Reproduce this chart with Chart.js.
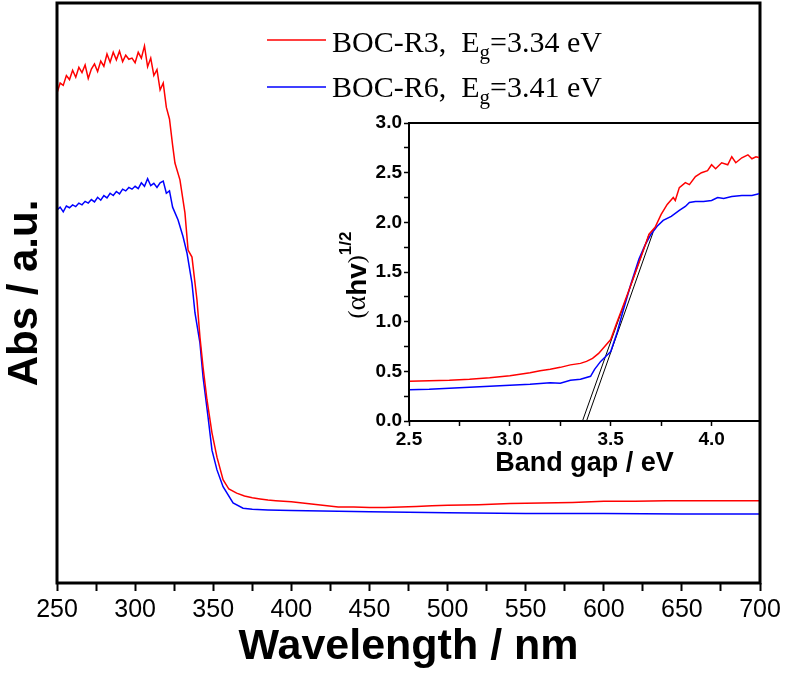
<!DOCTYPE html>
<html>
<head>
<meta charset="utf-8">
<script src="https://cdn.jsdelivr.net/npm/chart.js@4"></script>
<style>
  body { margin: 0; background: #fff; }
  #wrap { position: relative; width: 786px; height: 673px; }
  #main { position: absolute; left: 0; top: 0; }
  #inset { position: absolute; left: 330px; top: 100px; }
</style>
</head>
<body>
<div id="wrap">
  <canvas id="main" width="786" height="673"></canvas>
  <canvas id="inset" width="456" height="380"></canvas>
</div>
<script>
// main UV-vis spectra (absorbance in arbitrary units, 0..1 of the frame)
const redWl = [250,252,254,256,258,260,262,264,266,268,270,272,274,276,278,280,282,284,286,288,290,292,294,296,298,300,302,304,306,308,310,312,314,316,318,320,322,324,325.5,328.7,331.9,333.9,336.4,339.6,341.5,343.5,346,349.2,352.4,356.3,360,365,370,375,380,385,390,400,410,420,430,440,450,460,470,480,490,500,520,540,560,580,600,620,640,660,680,700];
const redAbs = [0.845,0.862,0.858,0.875,0.868,0.884,0.872,0.889,0.880,0.893,0.870,0.886,0.895,0.882,0.900,0.891,0.912,0.898,0.915,0.902,0.917,0.899,0.910,0.903,0.905,0.897,0.915,0.905,0.926,0.890,0.905,0.875,0.885,0.850,0.862,0.820,0.800,0.755,0.724,0.695,0.638,0.574,0.562,0.488,0.424,0.372,0.316,0.259,0.217,0.178,0.162,0.155,0.150,0.147,0.145,0.143,0.142,0.140,0.137,0.134,0.131,0.131,0.130,0.130,0.131,0.132,0.133,0.134,0.135,0.137,0.138,0.139,0.141,0.141,0.142,0.142,0.142,0.142];
const blueWl = [250,252,254,256,258,260,262,264,266,268,270,272,274,276,278,280,282,284,286,288,290,292,294,296,298,300,302,304,306,308,310,312,314,316,318,320,322,324,327.5,330.7,333.2,336.4,338.3,341.5,343.5,346.7,349.2,352.4,356.3,362.7,369.1,375,385,400,450,500,550,600,650,700];
const blueAbs = [0.643,0.648,0.640,0.650,0.647,0.652,0.649,0.655,0.652,0.658,0.655,0.661,0.657,0.665,0.660,0.668,0.664,0.672,0.668,0.675,0.671,0.679,0.676,0.682,0.679,0.684,0.680,0.690,0.684,0.697,0.685,0.689,0.682,0.690,0.693,0.672,0.676,0.648,0.626,0.597,0.569,0.517,0.466,0.414,0.355,0.286,0.229,0.195,0.166,0.138,0.129,0.127,0.126,0.125,0.123,0.121,0.120,0.120,0.119,0.119];
const wlTicks = [250,275,300,325,350,375,400,425,450,475,500,525,550,575,600,625,650,675,700];

// inset: Tauc plot
const insetRedE = [2.5,2.6,2.7,2.8,2.9,3.0,3.05,3.1,3.15,3.2,3.25,3.3,3.35,3.38,3.41,3.44,3.47,3.5,3.53,3.56,3.6,3.65,3.69,3.72,3.75,3.78,3.81,3.82,3.84,3.87,3.89,3.92,3.95,3.98,4.0,4.02,4.05,4.08,4.1,4.12,4.15,4.18,4.2,4.22,4.24];
const insetRedY = [0.40,0.405,0.41,0.42,0.435,0.455,0.47,0.485,0.505,0.52,0.54,0.565,0.58,0.60,0.63,0.68,0.75,0.82,0.99,1.15,1.37,1.65,1.88,1.95,2.08,2.18,2.25,2.22,2.35,2.40,2.38,2.46,2.50,2.52,2.58,2.54,2.60,2.58,2.66,2.60,2.65,2.68,2.64,2.66,2.65];
const insetBlueE = [2.5,2.6,2.7,2.8,2.9,3.0,3.1,3.2,3.25,3.3,3.35,3.4,3.42,3.45,3.48,3.5,3.53,3.56,3.6,3.64,3.67,3.7,3.73,3.76,3.8,3.84,3.87,3.89,3.92,3.96,4.0,4.03,4.06,4.1,4.15,4.2,4.24];
const insetBlueY = [0.315,0.32,0.33,0.34,0.35,0.36,0.37,0.385,0.38,0.41,0.42,0.45,0.52,0.60,0.66,0.70,0.88,1.10,1.38,1.63,1.77,1.88,1.96,2.02,2.06,2.12,2.16,2.20,2.21,2.21,2.22,2.25,2.24,2.26,2.27,2.27,2.29];
const tangent1E = [3.36, 3.69];
const tangent1Y = [0, 1.88];
const tangent2E = [3.38, 3.71];
const tangent2Y = [0, 1.90];
const insetXTicks = [2.5,2.75,3.0,3.25,3.5,3.75,4.0];
const insetYTicks = [0,0.25,0.5,0.75,1.0,1.25,1.5,1.75,2.0,2.25,2.5,2.75,3.0];

const seriesNames = ['BOC-R3,  E', 'BOC-R6,  E'];
const gapLabels = ['=3.34 eV', '=3.41 eV'];
const seriesColors = ['#ff0000', '#0000ff'];

const pts = (xs, ys) => xs.map((x, i) => ({ x: x, y: ys[i] }));

// frame around the plot area
const framePlugin = {
  id: 'frame',
  afterDraw(chart, args, opts) {
    const a = chart.chartArea, ctx = chart.ctx;
    ctx.save();
    ctx.strokeStyle = '#000';
    ctx.lineWidth = opts.width || 2;
    ctx.strokeRect(a.left, a.top, a.right - a.left, a.bottom - a.top);
    ctx.restore();
  }
};

// legend with subscript g
const legendPlugin = {
  id: 'subLegend',
  afterDraw(chart) {
    const ctx = chart.ctx;
    const rows = [{ ly: 40, ty: 52 }, { ly: 87, ty: 97 }];
    ctx.save();
    rows.forEach((r, i) => {
      ctx.strokeStyle = seriesColors[i];
      ctx.lineWidth = 1.5;
      ctx.beginPath();
      ctx.moveTo(267, r.ly);
      ctx.lineTo(326, r.ly);
      ctx.stroke();
      ctx.fillStyle = '#000';
      ctx.textBaseline = 'alphabetic';
      let x = 332;
      ctx.font = '30px "Liberation Serif", "Times New Roman", serif';
      ctx.fillText(seriesNames[i], x, r.ty);
      x += ctx.measureText(seriesNames[i]).width;
      ctx.font = '21px "Liberation Serif", "Times New Roman", serif';
      ctx.fillText('g', x, r.ty + 7);
      x += ctx.measureText('g').width;
      ctx.font = '30px "Liberation Serif", "Times New Roman", serif';
      ctx.fillText(gapLabels[i], x, r.ty);
    });
    ctx.restore();
  }
};

new Chart(document.getElementById('main'), {
  type: 'line',
  data: {
    datasets: [
      { data: pts(redWl, redAbs), borderColor: seriesColors[0], borderWidth: 1.5, pointRadius: 0, tension: 0 },
      { data: pts(blueWl, blueAbs), borderColor: seriesColors[1], borderWidth: 1.5, pointRadius: 0, tension: 0 }
    ]
  },
  options: {
    responsive: false,
    animation: false,
    layout: { padding: { top: 3, right: 26, left: 0, bottom: 0 } },
    plugins: { legend: { display: false }, tooltip: { enabled: false }, frame: { width: 3 } },
    scales: {
      x: {
        type: 'linear', min: 250, max: 700,
        afterBuildTicks: s => { s.ticks = wlTicks.map(v => ({ value: v })); },
        afterFit: s => { s.height = 90; },
        border: { display: false },
        grid: { drawOnChartArea: false, tickLength: 8, tickColor: '#000', tickWidth: 2 },
        ticks: {
          color: '#000', padding: 4, maxRotation: 0, autoSkip: false,
          font: { family: '"Liberation Sans Narrow", "Liberation Sans", Arial', size: 25 },
          callback: v => (v % 50 === 0 ? v : '')
        },
        title: {
          display: true, text: 'Wavelength / nm', color: '#000', padding: { top: 0, bottom: 0 },
          font: { family: '"Liberation Sans", Arial', size: 43, weight: 'bold' }
        }
      },
      y: {
        min: 0, max: 1,
        afterFit: s => { s.width = 57; },
        border: { display: false },
        grid: { display: false },
        ticks: { display: false },
        title: {
          display: true, text: 'Abs / a.u.', color: '#000', padding: { top: 0, bottom: 4 },
          font: { family: '"Liberation Sans", Arial', size: 42, weight: 'bold' }
        }
      }
    }
  },
  plugins: [framePlugin, legendPlugin]
});

// rotated (αhv)^1/2 axis title
const insetTitlePlugin = {
  id: 'insetTitle',
  afterDraw(chart) {
    const ctx = chart.ctx;
    const parts = [
      { t: '(', f: '24px "Liberation Serif", serif', dy: 0 },
      { t: 'α', f: '28px "Liberation Serif", serif', dy: 0 },
      { t: 'hv', f: 'bold 28px "Liberation Sans", Arial', dy: 0 },
      { t: ')', f: '24px "Liberation Serif", serif', dy: 0 },
      { t: '1/2', f: 'bold 17px "Liberation Sans", Arial', dy: -12 }
    ];
    ctx.save();
    let total = 0;
    parts.forEach(p => { ctx.font = p.f; p.w = ctx.measureText(p.t).width; total += p.w; });
    ctx.translate(28, 175);
    ctx.rotate(-Math.PI / 2);
    ctx.fillStyle = '#000';
    ctx.textBaseline = 'middle';
    let x = -total / 2;
    parts.forEach(p => { ctx.font = p.f; ctx.fillText(p.t, x, p.dy); x += p.w; });
    ctx.restore();
  }
};

new Chart(document.getElementById('inset'), {
  type: 'line',
  data: {
    datasets: [
      { data: pts(insetRedE, insetRedY), borderColor: seriesColors[0], borderWidth: 1.5, pointRadius: 0, tension: 0 },
      { data: pts(insetBlueE, insetBlueY), borderColor: seriesColors[1], borderWidth: 1.5, pointRadius: 0, tension: 0 },
      { data: pts(tangent1E, tangent1Y), borderColor: '#000', borderWidth: 1, pointRadius: 0 },
      { data: pts(tangent2E, tangent2Y), borderColor: '#000', borderWidth: 1, pointRadius: 0 }
    ]
  },
  options: {
    responsive: false,
    animation: false,
    layout: { padding: { top: 23, right: 26, left: 0, bottom: 0 } },
    plugins: { legend: { display: false }, tooltip: { enabled: false }, frame: { width: 2 } },
    scales: {
      x: {
        type: 'linear', min: 2.5, max: 4.24,
        afterBuildTicks: s => { s.ticks = insetXTicks.map(v => ({ value: v })); },
        afterFit: s => { s.height = 59; },
        border: { display: false },
        grid: { drawOnChartArea: false, tickLength: 5, tickColor: '#000', tickWidth: 1.5 },
        ticks: {
          color: '#000', padding: 2, maxRotation: 0, autoSkip: false,
          font: { family: '"Liberation Sans", Arial', size: 19, weight: 'bold' },
          callback: v => (Math.abs(v * 2 - Math.round(v * 2)) < 1e-6 ? v.toFixed(1) : '')
        },
        title: {
          display: true, text: 'Band gap / eV', color: '#000', padding: { top: 0, bottom: 0 },
          font: { family: '"Liberation Sans", Arial', size: 27, weight: 'bold' }
        }
      },
      y: {
        min: 0, max: 3,
        afterBuildTicks: s => { s.ticks = insetYTicks.map(v => ({ value: v })); },
        afterFit: s => { s.width = 79; },
        border: { display: false },
        grid: { drawOnChartArea: false, tickLength: 5, tickColor: '#000', tickWidth: 1.5 },
        ticks: {
          color: '#000', padding: 2, autoSkip: false,
          font: { family: '"Liberation Sans", Arial', size: 19, weight: 'bold' },
          callback: v => (Math.abs(v * 2 - Math.round(v * 2)) < 1e-6 ? v.toFixed(1) : '')
        }
      }
    }
  },
  plugins: [framePlugin, insetTitlePlugin]
});
</script>
</body>
</html>
